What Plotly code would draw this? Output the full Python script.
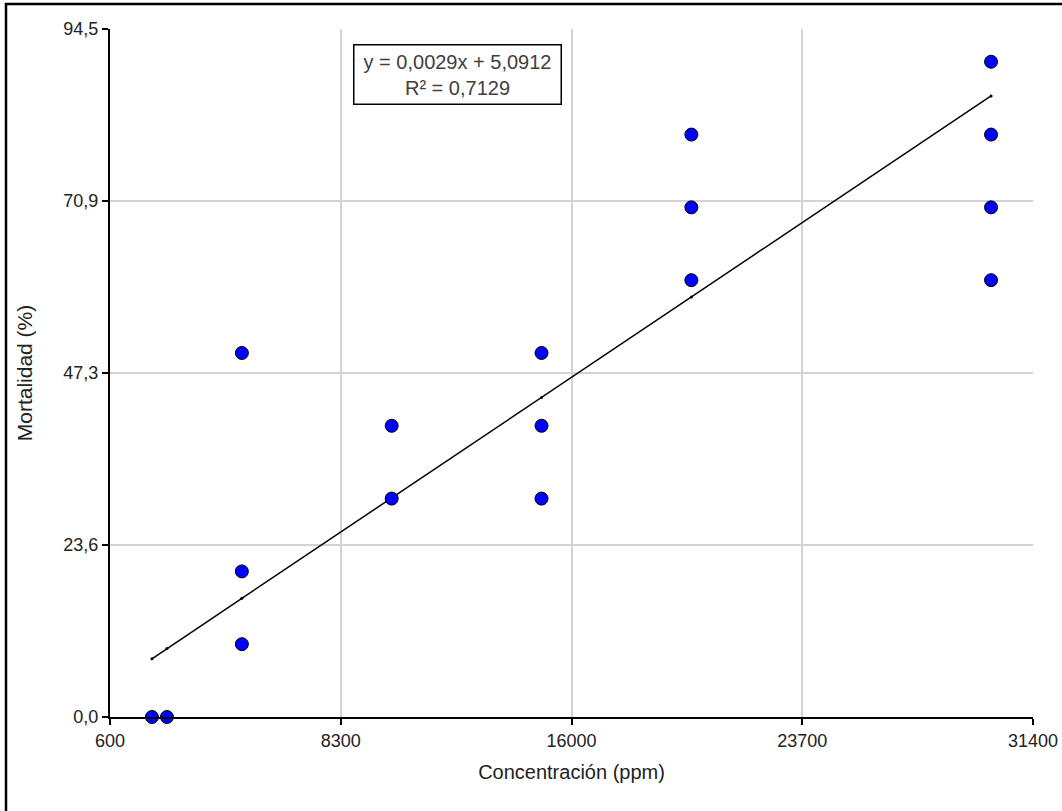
import plotly.graph_objects as go

# Observed data (concentration in ppm, mortality in %)
conc = [2000, 2500, 5000, 5000, 5000, 10000, 10000, 15000, 15000, 15000,
        20000, 20000, 20000, 30000, 30000, 30000, 30000]
mort = [0, 0, 10, 20, 50, 30, 40, 30, 40, 50,
        60, 70, 80, 60, 70, 80, 90]

# Trend line as drawn in the chart
trend_x = [2000, 2500, 5000, 10000, 15000, 20000, 30000]
trend_y = [8.0, 9.4, 16.3, 30.1, 43.9, 57.7, 85.3]

x_ticks = [600, 8300, 16000, 23700, 31400]
x_ticktext = ["600", "8300", "16000", "23700", "31400"]
y_ticks = [0, 23.625, 47.25, 70.875, 94.5]
y_ticktext = ["0,0", "23,6", "47,3", "70,9", "94,5"]

equation = "y = 0,0029x + 5,0912<br>R² = 0,7129"

FONT = "Liberation Sans, Arial, sans-serif"

W, H = 1062, 811
L, R, T, B = 110, 29, 29, 94
PW, PH = W - L - R, H - T - B

fig = go.Figure()
fig.add_trace(go.Scatter(
    x=trend_x, y=trend_y, mode="lines+markers",
    line=dict(color="black", width=1.5),
    marker=dict(color="black", size=3),
    showlegend=False, hoverinfo="skip",
))
fig.add_trace(go.Scatter(
    x=conc, y=mort, mode="markers",
    marker=dict(color="#0000FF", size=13, line=dict(color="black", width=1)),
    showlegend=False, cliponaxis=False,
))

fig.update_layout(
    width=W, height=H,
    margin=dict(l=L, r=R, t=T, b=B, autoexpand=False),
    paper_bgcolor="white", plot_bgcolor="white",
    font=dict(family=FONT, size=18, color="#222222"),
    xaxis=dict(
        range=[600, 31400], tickvals=x_ticks, ticktext=x_ticktext,
        showgrid=True, gridcolor="#D3D3D3", gridwidth=1.5,
        showline=True, linecolor="black", linewidth=2,
        ticks="outside", ticklen=6, tickcolor="black", tickwidth=2,
        zeroline=False, ticklabeloverflow="allow", automargin=False,
        title=dict(text="Concentración (ppm)", font=dict(size=20), standoff=15),
        tickfont=dict(size=18),
    ),
    yaxis=dict(
        range=[0, 94.5], tickvals=y_ticks, ticktext=y_ticktext,
        showgrid=True, gridcolor="#D3D3D3", gridwidth=1.5,
        showline=True, linecolor="black", linewidth=2,
        ticks="outside", ticklen=6, tickcolor="black", tickwidth=2,
        zeroline=False, automargin=False,
        title=dict(text="Mortalidad (%)", font=dict(size=21), standoff=25),
        tickfont=dict(size=18),
    ),
    shapes=[
        dict(type="rect", xref="paper", yref="paper",
             x0=-(L - 6) / PW, x1=1.2, y0=-0.3, y1=1 + (T - 4) / PH,
             line=dict(color="black", width=2.5), layer="above"),
    ],
    annotations=[
        dict(text=equation, xref="paper", yref="paper",
             x=(457 - L) / PW, y=(H - B - 74) / PH,
             xanchor="center", yanchor="middle", showarrow=False,
             align="center", font=dict(size=20, color="#404040"),
             bordercolor="black", borderwidth=1.5, borderpad=5,
             bgcolor="white", width=196),
    ],
)

fig.write_html(
    "out.html",
    config={"displayModeBar": False},
    post_script="document.body.style.margin='0px';document.body.style.overflow='hidden';",
)
